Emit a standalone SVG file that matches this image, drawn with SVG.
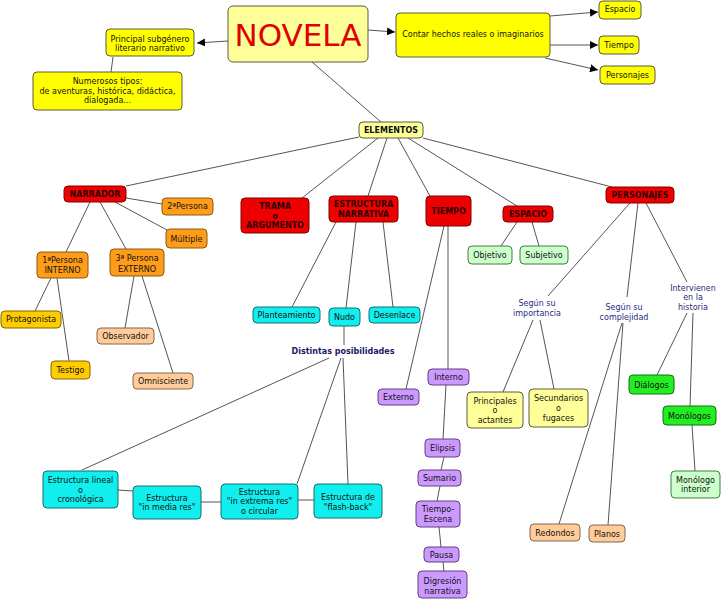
<svg xmlns="http://www.w3.org/2000/svg" width="722" height="600" viewBox="0 0 722 600">
<defs>
<marker id="arr" viewBox="0 0 10 10" refX="10" refY="5" markerWidth="8" markerHeight="8" markerUnits="userSpaceOnUse" orient="auto"><path d="M0,0 L10,5 L0,10 z" fill="#000"/></marker>
<style>
text{font-family:"DejaVu Sans","Verdana",sans-serif;font-size:8px;fill:#111;text-anchor:middle}
.b{font-weight:bold}
.nv{fill:#2a2a80}
.nvb{fill:#1a1a66;font-weight:bold}
.n rect{stroke:#5a5a40;stroke-width:1}
.ly{fill:#ffff99}
.y{fill:#ffff00}
.n .r{fill:#ee0000;stroke:#800000}
.n .o{fill:#ff9c1a;stroke:#8a5a10}
.n .g{fill:#ffcc00;stroke:#806600}
.n .p{fill:#ffcc99;stroke:#806650}
.n .c{fill:#11eeee;stroke:#107070}
.n .pu{fill:#cc99ff;stroke:#604080}
.n .lg{fill:#ccffcc;stroke:#408040}
.n .gr{fill:#22ee22;stroke:#107010}
.rt{fill:#300000}
#connectors line{stroke:#555;stroke-width:1}
</style>
</defs>
<rect width="722" height="600" fill="#fff"/>
<g id="connectors">
<line x1="228" y1="41" x2="197" y2="43" marker-end="url(#arr)"/>
<line x1="113" y1="57" x2="111" y2="72"/>
<line x1="368" y1="30" x2="395" y2="32" marker-end="url(#arr)"/>
<line x1="550" y1="16" x2="598" y2="12" marker-end="url(#arr)"/>
<line x1="550" y1="45" x2="598" y2="45" marker-end="url(#arr)"/>
<line x1="545" y1="58" x2="598" y2="70" marker-end="url(#arr)"/>
<line x1="312" y1="62" x2="381" y2="122"/>
<line x1="359" y1="137" x2="126" y2="186"/>
<line x1="378" y1="138" x2="302" y2="198"/>
<line x1="387" y1="138" x2="368" y2="196"/>
<line x1="398" y1="138" x2="430" y2="196"/>
<line x1="408" y1="138" x2="517" y2="206"/>
<line x1="423" y1="138" x2="612" y2="187"/>
<line x1="126" y1="198" x2="162" y2="204"/>
<line x1="115" y1="202" x2="167" y2="230"/>
<line x1="90" y1="202" x2="66" y2="252"/>
<line x1="100" y1="202" x2="126" y2="249"/>
<line x1="51" y1="278" x2="35" y2="311"/>
<line x1="57" y1="278" x2="69" y2="361"/>
<line x1="134" y1="276" x2="125" y2="328"/>
<line x1="142" y1="276" x2="173" y2="373"/>
<line x1="336" y1="222" x2="292" y2="307"/>
<line x1="356" y1="222" x2="346" y2="308"/>
<line x1="383" y1="222" x2="393" y2="307"/>
<line x1="344" y1="326" x2="344" y2="345"/>
<line x1="329" y1="358" x2="82" y2="470"/>
<line x1="341" y1="358" x2="297" y2="484"/>
<line x1="343" y1="358" x2="348" y2="484"/>
<line x1="118" y1="490" x2="133" y2="491"/>
<line x1="201" y1="502" x2="221" y2="502"/>
<line x1="298" y1="500" x2="314" y2="500"/>
<line x1="444" y1="226" x2="406" y2="389"/>
<line x1="448" y1="226" x2="448" y2="369"/>
<line x1="446" y1="385" x2="443" y2="439"/>
<line x1="444" y1="457" x2="441" y2="470"/>
<line x1="440" y1="486" x2="437" y2="501"/>
<line x1="439" y1="527" x2="441" y2="547"/>
<line x1="443" y1="562" x2="444" y2="571"/>
<line x1="517" y1="222" x2="501" y2="246"/>
<line x1="532" y1="222" x2="539" y2="246"/>
<line x1="630" y1="203" x2="548" y2="296"/>
<line x1="638" y1="203" x2="627" y2="297"/>
<line x1="646" y1="203" x2="687" y2="282"/>
<line x1="533" y1="320" x2="503" y2="392"/>
<line x1="540" y1="320" x2="554" y2="389"/>
<line x1="622" y1="323" x2="559" y2="524"/>
<line x1="623" y1="323" x2="608" y2="525"/>
<line x1="687" y1="313" x2="657" y2="375"/>
<line x1="693" y1="313" x2="690" y2="406"/>
<line x1="692" y1="425" x2="695" y2="471"/>
</g>
<g class="n">
<g id="novela"><rect class="ly" x="228" y="6" width="140" height="56" rx="5"/><text x="298" y="46" style="font-size:31px;fill:#e00000">NOVELA</text></g>
<g id="principal"><rect class="y" x="106" y="29" width="88" height="27" rx="4"/><text x="150" y="42">Principal subgénero</text><text x="150" y="51">literario narrativo</text></g>
<g id="numerosos"><rect class="y" x="33" y="72" width="149" height="38" rx="4"/><text x="107.5" y="84">Numerosos tipos:</text><text x="107.5" y="94">de aventuras, histórica, didáctica,</text><text x="107.5" y="103">dialogada...</text></g>
<g id="contar"><rect class="y" x="396" y="13" width="154" height="44" rx="4"/><text x="473" y="37">Contar hechos reales o imaginarios</text></g>
<g id="espacio1"><rect class="y" x="599" y="1" width="42" height="18" rx="4"/><text x="620" y="12">Espacio</text></g>
<g id="tiempo1"><rect class="y" x="599" y="36" width="40" height="18" rx="4"/><text x="619" y="48">Tiempo</text></g>
<g id="personajes1"><rect class="y" x="600" y="66" width="55" height="18" rx="4"/><text x="627.5" y="78">Personajes</text></g>
<g id="elementos"><rect class="ly" x="359" y="122" width="64" height="16" rx="4"/><text class="b" x="391" y="133">ELEMENTOS</text></g>
<g id="narrador"><rect class="r" x="64" y="186" width="62" height="16" rx="4"/><text class="b rt" x="95" y="197">NARRADOR</text></g>
<g id="p2"><rect class="o" x="162" y="198" width="51" height="17" rx="4"/><text x="187.5" y="209">2ªPersona</text></g>
<g id="multiple"><rect class="o" x="166" y="229" width="41" height="19" rx="4"/><text x="186.5" y="242">Múltiple</text></g>
<g id="p1"><rect class="o" x="37" y="252" width="51" height="26" rx="4"/><text x="62.5" y="263">1ªPersona</text><text x="62.5" y="273">INTERNO</text></g>
<g id="p3"><rect class="o" x="110" y="249" width="54" height="27" rx="4"/><text x="137" y="261">3ª Persona</text><text x="137" y="272">EXTERNO</text></g>
<g id="protagonista"><rect class="g" x="1" y="311" width="60" height="17" rx="4"/><text x="31" y="322">Protagonista</text></g>
<g id="testigo"><rect class="g" x="51" y="361" width="39" height="18" rx="4"/><text x="70.5" y="373">Testigo</text></g>
<g id="observador"><rect class="p" x="97" y="328" width="57" height="16" rx="4"/><text x="125.5" y="339">Observador</text></g>
<g id="omnisciente"><rect class="p" x="133" y="373" width="60" height="16" rx="4"/><text x="163" y="384">Omnisciente</text></g>
<g id="trama"><rect class="r" x="241" y="198" width="68" height="35" rx="4"/><text class="b rt" x="275" y="209">TRAMA</text><text class="b rt" x="275" y="219">o</text><text class="b rt" x="275" y="228">ARGUMENTO</text></g>
<g id="estructura"><rect class="r" x="329" y="196" width="69" height="26" rx="4"/><text class="b rt" x="363.5" y="207">ESTRUCTURA</text><text class="b rt" x="363.5" y="217">NARRATIVA</text></g>
<g id="tiempo"><rect class="r" x="426" y="196" width="45" height="30" rx="4"/><text class="b rt" x="448.5" y="214">TIEMPO</text></g>
<g id="espacio"><rect class="r" x="503" y="206" width="50" height="16" rx="4"/><text class="b rt" x="528" y="217">ESPACIO</text></g>
<g id="personajes"><rect class="r" x="606" y="187" width="68" height="16" rx="4"/><text class="b rt" x="640" y="198">PERSONAJES</text></g>
<g id="planteamiento"><rect class="c" x="253" y="307" width="67" height="16" rx="4"/><text x="286.5" y="318">Planteamiento</text></g>
<g id="nudo"><rect class="c" x="329" y="308" width="31" height="18" rx="4"/><text x="344.5" y="320">Nudo</text></g>
<g id="desenlace"><rect class="c" x="369" y="307" width="51" height="16" rx="4"/><text x="394.5" y="318">Desenlace</text></g>
<g id="distintas"><text class="nvb" x="343" y="354">Distintas posibilidades</text></g>
<g id="lineal"><rect class="c" x="43" y="471" width="75" height="37" rx="4"/><text x="80.5" y="483">Estructura lineal</text><text x="80.5" y="493">o</text><text x="80.5" y="502">cronológica</text></g>
<g id="media"><rect class="c" x="133" y="486" width="68" height="33" rx="4"/><text x="167" y="501">Estructura</text><text x="167" y="510">"in media res"</text></g>
<g id="extrema"><rect class="c" x="221" y="484" width="77" height="35" rx="4"/><text x="259.5" y="495">Estructura</text><text x="259.5" y="504">"in extrema res"</text><text x="259.5" y="514">o circular</text></g>
<g id="flashback"><rect class="c" x="314" y="484" width="68" height="34" rx="4"/><text x="348" y="500">Estructura de</text><text x="348" y="510">"flash-back"</text></g>
<g id="externo"><rect class="pu" x="378" y="389" width="41" height="16" rx="4"/><text x="398.5" y="400">Externo</text></g>
<g id="interno"><rect class="pu" x="428" y="369" width="41" height="16" rx="4"/><text x="448.5" y="380">Interno</text></g>
<g id="elipsis"><rect class="pu" x="425" y="439" width="35" height="18" rx="4"/><text x="442.5" y="451">Elipsis</text></g>
<g id="sumario"><rect class="pu" x="418" y="470" width="43" height="16" rx="4"/><text x="439.5" y="481">Sumario</text></g>
<g id="tiempoescena"><rect class="pu" x="416" y="501" width="44" height="26" rx="4"/><text x="438" y="512">Tiempo-</text><text x="438" y="522">Escena</text></g>
<g id="pausa"><rect class="pu" x="424" y="547" width="35" height="15" rx="4"/><text x="441.5" y="558">Pausa</text></g>
<g id="digresion"><rect class="pu" x="418" y="571" width="49" height="27" rx="4"/><text x="442.5" y="584">Digresión</text><text x="442.5" y="594">narrativa</text></g>
<g id="objetivo"><rect class="lg" x="468" y="246" width="44" height="18" rx="4"/><text x="490" y="258">Objetivo</text></g>
<g id="subjetivo"><rect class="lg" x="520" y="246" width="48" height="18" rx="4"/><text x="544" y="258">Subjetivo</text></g>
<g id="importancia"><text class="nv" x="537" y="306">Según su</text><text class="nv" x="537" y="316">importancia</text></g>
<g id="complejidad"><text class="nv" x="624" y="310">Según su</text><text class="nv" x="624" y="320">complejidad</text></g>
<g id="intervienen"><text class="nv" x="693" y="291">Intervienen</text><text class="nv" x="693" y="300">en la</text><text class="nv" x="693" y="310">historia</text></g>
<g id="principales"><rect class="ly" x="467" y="392" width="56" height="36" rx="4"/><text x="495" y="404">Principales</text><text x="495" y="413">o</text><text x="495" y="423">actantes</text></g>
<g id="secundarios"><rect class="ly" x="529" y="389" width="59" height="38" rx="4"/><text x="558.5" y="401">Secundarios</text><text x="558.5" y="411">o</text><text x="558.5" y="421">fugaces</text></g>
<g id="redondos"><rect class="p" x="530" y="524" width="50" height="17" rx="4"/><text x="555" y="536">Redondos</text></g>
<g id="planos"><rect class="p" x="589" y="525" width="36" height="17" rx="4"/><text x="607" y="537">Planos</text></g>
<g id="dialogos"><rect class="gr" x="629" y="375" width="45" height="19" rx="4"/><text x="651.5" y="388">Diálogos</text></g>
<g id="monologos"><rect class="gr" x="663" y="406" width="53" height="19" rx="4"/><text x="689.5" y="419">Monólogos</text></g>
<g id="monologointerior"><rect class="lg" x="671" y="471" width="49" height="27" rx="4"/><text x="695.5" y="483">Monólogo</text><text x="695.5" y="492">interior</text></g>
</g>
</svg>
